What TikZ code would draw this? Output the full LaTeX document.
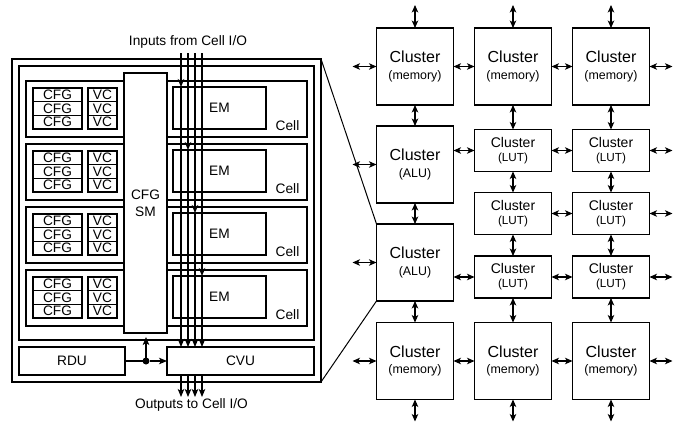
\documentclass[tikz,border=0pt]{standalone}
\usepackage{fontspec}
\setmainfont{Liberation Sans}
\usetikzlibrary{arrows.meta}

\newcommand\fsz[1]{\fontsize{#1}{#1}\selectfont}

% cluster boxes of the array: name, x, y, subtitle
\newcommand\bigcluster[4]{%
  \node[clbig] (#1) at (#2,#3) {};
  \node[font=\fsz{16}] at ([yshift=9.3pt]#1.center) {Cluster};
  \node[font=\fsz{12.4}] at ([yshift=-9.5pt]#1.center) {(#4)};
}
\newcommand\lutcluster[3]{%
  \node[cllut] (#1) at (#2,#3) {};
  \node[font=\fsz{14}] at ([yshift=8.2pt]#1.center) {Cluster};
  \node[font=\fsz{11.7}] at ([yshift=-7.8pt]#1.center) {(LUT)};
}

\begin{document}
\begin{tikzpicture}[x=1pt,y=-1pt,
  font=\fontsize{13.7}{16}\selectfont,
  every node/.style={inner sep=0pt, outer sep=0pt},
  lw/.style={line width=1.2pt},
  blk/.style={draw, lw, fill=white, anchor=north west},
  clbig/.style={draw, lw, minimum width=77, minimum height=77},
  cllut/.style={draw, lw, minimum width=77, minimum height=42},
  dbl/.style={line width=1.1pt, {Stealth[length=7.5pt,width=6.5pt,inset=2pt]}-{Stealth[length=7.5pt,width=6.5pt,inset=2pt]}},
  sig/.style={lw, -{Stealth[length=8pt,width=6.5pt,inset=2pt]}},
]
\useasboundingbox (0,0) rectangle (685,426);

% ---------- cell block ----------
\node[blk, minimum width=309, minimum height=323] (outer) at (12,59) {};
\node[blk, minimum width=295, minimum height=274] (inner) at (19,66) {};

\foreach \i/\t in {1/81,2/144,3/207,4/270}{
  \node[blk, minimum width=281, minimum height=56] (cell\i) at (26,\t) {};
  \node at (287.5,\t+45) {Cell};
  \node[blk, minimum width=93, minimum height=42] (em\i) at (173,\t+6) {EM};
  \foreach \r in {0,1,2}{
    \node[blk, minimum width=49, minimum height=13.67] (cfg\i\r) at (33,\t+7+\r*13.67) {CFG};
    \node[blk, minimum width=29, minimum height=13.67] (vc\i\r) at (88,\t+7+\r*13.67) {VC};
  }
}

\node[blk, minimum width=43, minimum height=260, align=center,
      font=\fontsize{13.7}{17}\selectfont] (sm) at (124,73) {CFG\\SM};

\node[blk, minimum width=106, minimum height=28] (rdu) at (19,347) {RDU};
\node[blk, minimum width=147, minimum height=28] (cvu) at (167,347) {CVU};

% configuration distribution
\node[circle, fill, minimum size=7pt] (dot) at (146,361) {};
\draw[lw] (rdu.east |- dot) -- (dot);
\draw[sig] (dot) -- (cvu.west |- dot);
\draw[sig, shorten >=4pt] (dot) -- (dot |- sm.south);

% cell I/O signal lines
\foreach \i/\x in {1/181,2/188,3/195,4/202}{
  \coordinate (in\i) at (\x,53);
  \coordinate (out\i) at (\x,397);
  \draw[sig] (in\i) -- (in\i |- em\i.north);
  \draw[sig] (in\i |- em\i.north) -- (in\i |- cvu.north);
  \draw[sig] (in\i |- cvu.south) -- (out\i);
}

\node (intxt) at (188,42) {Inputs from Cell I/O};
\node (outtxt) at (191.5,405) {Outputs to Cell I/O};

% ---------- cluster array ----------
\bigcluster{m1}{415}{66.5}{memory}
\bigcluster{m2}{513}{66.5}{memory}
\bigcluster{m3}{611}{66.5}{memory}
\bigcluster{a1}{415}{164.5}{ALU}
\bigcluster{a2}{415}{262.5}{ALU}
\lutcluster{l22}{513}{150.5}
\lutcluster{l23}{611}{150.5}
\lutcluster{l32}{513}{213.5}
\lutcluster{l33}{611}{213.5}
\lutcluster{l42}{513}{277}
\lutcluster{l43}{611}{277}
\bigcluster{b1}{415}{361}{memory}
\bigcluster{b2}{513}{361}{memory}
\bigcluster{b3}{611}{361}{memory}

% vertical links
\foreach \c in {1,2,3}{
  \draw[dbl] (m\c.north) -- ++(0,-23);
  \draw[dbl] (b\c.south) -- ++(0,22);
}
\draw[dbl] (m1) -- (a1);
\draw[dbl] (a1) -- (a2);
\draw[dbl] (a2) -- (b1);
\foreach \c in {2,3}{
  \draw[dbl] (m\c) -- (l2\c);
  \draw[dbl] (l2\c) -- (l3\c);
  \draw[dbl] (l3\c) -- (l4\c);
  \draw[dbl] (l4\c) -- (b\c);
}

% horizontal links
\draw[dbl] (m1.west) -- ++(-24,0);
\draw[dbl] (a1.west) -- ++(-24,0);
\draw[dbl] (a2.west) -- ++(-24,0);
\draw[dbl] (b1.west) -- ++(-24,0);
\draw[dbl] (m1) -- (m2);
\draw[dbl] (m2) -- (m3);
\draw[dbl] (a1.east |- l22.west) -- (l22.west);
\draw[dbl] (l22) -- (l23);
\draw[dbl] (l32) -- (l33);
\draw[dbl] (a2.east |- l42.west) -- (l42.west);
\draw[dbl] (l42) -- (l43);
\draw[dbl] (b1) -- (b2);
\draw[dbl] (b2) -- (b3);
\foreach \n in {m3,l23,l33,l43,b3}{
  \draw[dbl] (\n.east) -- ++(23,0);
}

% magnification lines from the cell block to its cluster
\draw[line width=1pt] (outer.north east) -- (a2.north west);
\draw[line width=1pt] (outer.south east) -- (a2.south west);
\end{tikzpicture}
\end{document}
